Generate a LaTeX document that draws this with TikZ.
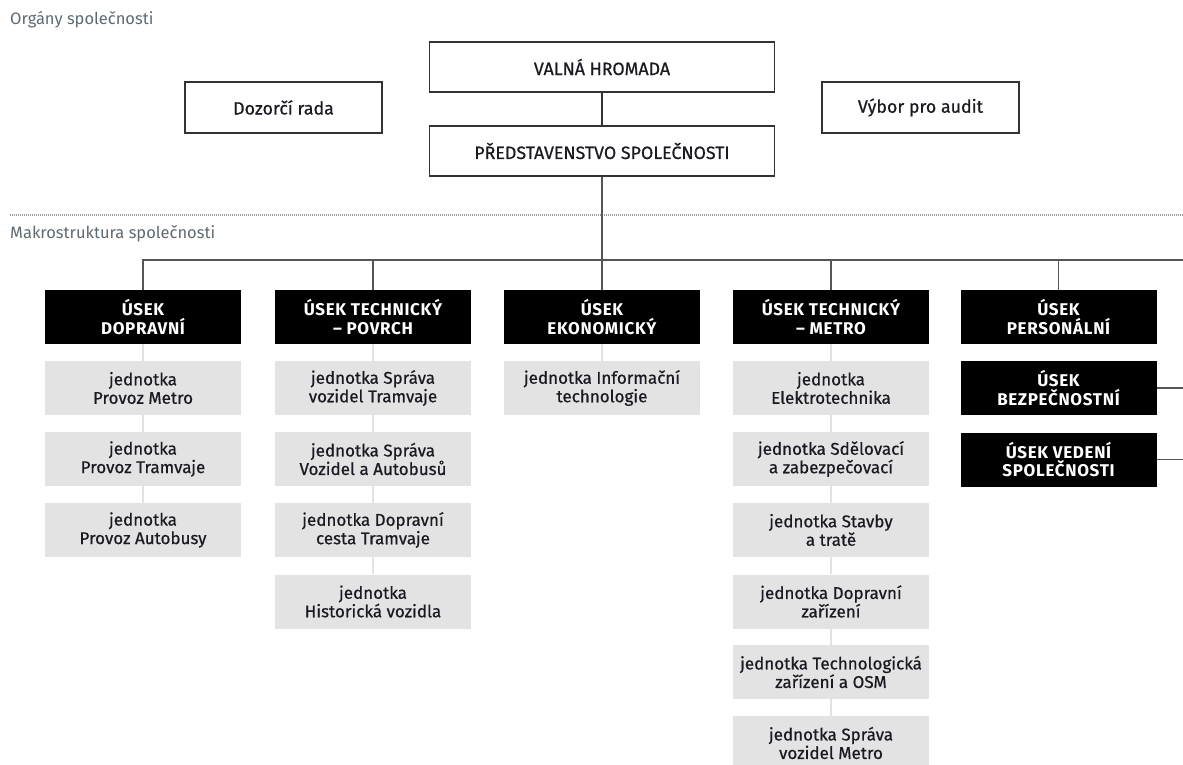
\documentclass[tikz,border=0pt]{standalone}
\usepackage{fontspec}
\setmainfont{Fira Sans}
\newfontfamily\mediumface[FakeBold=0.6]{Fira Sans}
\newfontfamily\divisionface[LetterSpace=4]{Fira Sans}
\definecolor{ink}{HTML}{1A1A22}
\definecolor{caption}{HTML}{5E6A72}
\definecolor{unitfill}{HTML}{E3E3E3}
\definecolor{unitlink}{HTML}{E2E2E2}
\definecolor{busline}{HTML}{555555}
\definecolor{frame}{HTML}{333333}
\tikzset{
  organ/.style={draw=frame, line width=1.3pt, fill=white, text=ink,
    font=\mediumface\fontsize{17.8}{20}\selectfont, align=center, inner sep=0pt},
  division/.style={fill=black, text=white, font=\divisionface\bfseries\fontsize{17}{18.5}\selectfont,
    minimum width=196pt, minimum height=54pt, align=center, inner sep=0pt},
  unit/.style={fill=unitfill, text=ink, font=\mediumface\fontsize{17}{18.5}\selectfont,
    minimum width=196pt, minimum height=54pt, align=center, inner sep=0pt},
  heading/.style={anchor=base west, text=caption, font=\fontsize{16.5}{18}\selectfont, inner sep=0pt},
  bus/.style={draw=busline, line width=1.4pt},
  organlink/.style={draw=frame, line width=1.3pt},
  sublink/.style={draw=unitlink, line width=2pt},
  separator/.style={draw=gray!80, line width=1.2pt, dash pattern=on 1pt off 1pt}
}
\begin{document}
\begin{tikzpicture}[x=1pt,y=-1pt]
\useasboundingbox (0,0) rectangle (1183,765);

% section headings and separator
\node[heading] (orgheading) at (10,25) {Orgány společnosti};
\node[heading] (makroheading) at (10,238) {Makrostruktura společnosti};
\coordinate (sepL) at (10,215);
\coordinate (sepR) at (1183,215);
\draw[separator] (sepL) -- (sepR);

% company bodies
\node[organ, minimum width=345pt, minimum height=50pt] (valna) at (602,67) {VALNÁ HROMADA};
\node[organ, minimum width=345pt, minimum height=50pt] (pred) at (602,151) {PŘEDSTAVENSTVO SPOLEČNOSTI};
\node[organ, minimum width=197pt, minimum height=51pt] (dozorci) at (283.5,107.5) {Dozorčí rada};
\node[organ, minimum width=197pt, minimum height=51pt] (vybor) at (920.5,107.5) {Výbor pro audit};
\draw[organlink] (valna.south) -- (pred.north);

% divisions
\node[division] (dop) at (143,317) {ÚSEK\\DOPRAVNÍ};
\node[division] (povrch) at (373,317) {ÚSEK TECHNICKÝ\\– POVRCH};
\node[division] (ekon) at (602,317) {ÚSEK\\EKONOMICKÝ};
\node[division] (metro) at (831,317) {ÚSEK TECHNICKÝ\\– METRO};
\node[division] (pers) at (1058.5,317) {ÚSEK\\PERSONÁLNÍ};
\node[division] (bezp) at (1058.5,388) {ÚSEK\\BEZPEČNOSTNÍ};
\node[division] (vedeni) at (1058.5,459.5) {ÚSEK VEDENÍ\\SPOLEČNOSTI};

% bus from the board to the divisions
\coordinate (busy) at (0,260);
\coordinate (busend) at (1183,260);
\coordinate (bezpend) at (1183,388);
\coordinate (vedeniend) at (1183,459.5);
\draw[bus] (dop.north) -- (dop.north |- busy) -- (busend);
\draw[bus] (pred.south) -- (ekon.north);
\foreach \d in {povrch,metro,pers}
  \draw[bus] (\d.north) -- (\d.north |- busy);
\draw[bus] (bezp.east) -- (bezpend);
\draw[bus] (vedeni.east) -- (vedeniend);

% units of ÚSEK DOPRAVNÍ
\node[unit] (d1) at (143,388) {jednotka\\Provoz Metro};
\node[unit] (d2) at (143,459) {jednotka\\Provoz Tramvaje};
\node[unit] (d3) at (143,530) {jednotka\\Provoz Autobusy};

% units of ÚSEK TECHNICKÝ – POVRCH
\node[unit] (p1) at (373,388) {jednotka Správa\\vozidel Tramvaje};
\node[unit] (p2) at (373,459) {jednotka Správa\\Vozidel a Autobusů};
\node[unit] (p3) at (373,530) {jednotka Dopravní\\cesta Tramvaje};
\node[unit] (p4) at (373,601.5) {jednotka\\Historická vozidla};

% units of ÚSEK EKONOMICKÝ
\node[unit] (e1) at (602,388) {jednotka Informační\\technologie};

% units of ÚSEK TECHNICKÝ – METRO
\node[unit] (m1) at (831,388) {jednotka\\Elektrotechnika};
\node[unit] (m2) at (831,459) {jednotka Sdělovací\\a zabezpečovací};
\node[unit] (m3) at (831,530) {jednotka Stavby\\a tratě};
\node[unit] (m4) at (831,601.5) {jednotka Dopravní\\zařízení};
\node[unit] (m5) at (831,672) {jednotka Technologická\\zařízení a OSM};
\node[unit] (m6) at (831,743) {jednotka Správa\\vozidel Metro};

% links between a division and its units
\foreach \a/\b in {dop/d1,d1/d2,d2/d3,
                   povrch/p1,p1/p2,p2/p3,p3/p4,
                   ekon/e1,
                   metro/m1,m1/m2,m2/m3,m3/m4,m4/m5,m5/m6}
  \draw[sublink] (\a.south) -- (\b.north);
\end{tikzpicture}
\end{document}
